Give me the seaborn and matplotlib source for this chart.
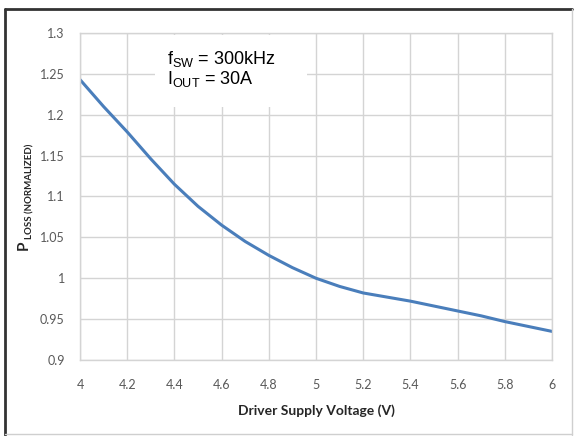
import matplotlib
matplotlib.use('Agg')
import matplotlib.pyplot as plt
from matplotlib.lines import Line2D
from matplotlib.patches import Rectangle
import numpy as np
import pandas as pd
import seaborn as sns

# values
voltage = [4.0, 4.1, 4.2, 4.3, 4.4, 4.5, 4.6, 4.7, 4.8, 4.9, 5.0,
           5.1, 5.2, 5.3, 5.4, 5.5, 5.6, 5.7, 5.8, 5.9, 6.0]
ploss = [1.243, 1.210, 1.179, 1.146, 1.115, 1.088, 1.065, 1.045, 1.028, 1.013, 1.000,
         0.990, 0.982, 0.977, 0.972, 0.966, 0.960, 0.954, 0.947, 0.941, 0.935]
x_ticks = [4, 4.2, 4.4, 4.6, 4.8, 5, 5.2, 5.4, 5.6, 5.8, 6]
x_tick_labels = ['4', '4.2', '4.4', '4.6', '4.8', '5', '5.2', '5.4', '5.6', '5.8', '6']
y_ticks = [0.9, 0.95, 1.0, 1.05, 1.1, 1.15, 1.2, 1.25, 1.3]
y_tick_labels = ['0.9', '0.95', '1', '1.05', '1.1', '1.15', '1.2', '1.25', '1.3']


def main():
    sns.set_theme(style='whitegrid')
    plt.rcParams['font.family'] = ['Lato', 'DejaVu Sans']
    plt.rcParams['mathtext.fontset'] = 'custom'
    plt.rcParams['mathtext.rm'] = 'Liberation Sans'

    df = pd.DataFrame({'voltage': voltage, 'ploss': ploss})

    fig = plt.figure(figsize=(5.75, 4.36), dpi=100)
    ax = fig.add_axes([80 / 575, 1 - 360 / 436, 472 / 575, 327 / 436])

    sns.lineplot(data=df, x='voltage', y='ploss', ax=ax,
                 color='#4a7ebb', linewidth=2.2)

    ax.set_xlim(4, 6)
    ax.set_ylim(0.9, 1.3)
    ax.set_xticks(x_ticks)
    ax.set_xticklabels(x_tick_labels)
    ax.set_yticks(y_ticks)
    ax.set_yticklabels(y_tick_labels)
    ax.tick_params(axis='both', labelsize=9, labelcolor='#595959', length=0)
    ax.tick_params(axis='x', pad=14)
    ax.tick_params(axis='y', pad=11)
    ax.grid(True, color='#d4d4d4', linewidth=1.0)
    for s in ax.spines.values():
        s.set_color('#d4d4d4')
        s.set_linewidth(1.0)

    ax.set_xlabel('Driver Supply Voltage (V)', fontsize=10, fontweight='bold',
                  color='#262626', labelpad=9)
    ax.set_ylabel('')

    # y label: big P with small subscript, drawn as two rotated pieces
    fig.text(24 / 575, 1 - 250 / 436, 'P', rotation=90, fontsize=11,
             fontweight='bold', color='#262626', ha='center', va='bottom')
    fig.text(30 / 575, 1 - 239 / 436, 'LOSS (NORMALIZED)', rotation=90,
             fontsize=7, fontweight='bold', color='#262626',
             ha='center', va='bottom')

    # white box behind the operating conditions, hides the grid
    ax.add_patch(Rectangle((4.318, 1.2095), 0.644, 0.088, facecolor='white',
                           edgecolor='none', zorder=1))
    ax.text(4.369, 1.281, 'f$_{\\mathrm{SW}}$ = 300kHz\nI$_{\\mathrm{OUT}}$ = 30A',
            fontsize=13, family='Liberation Sans', color='black',
            va='top', ha='left', linespacing=1.0, zorder=3)

    # chart frame
    fig.add_artist(Line2D([5 / 575, 572 / 575], [1 - 9 / 436, 1 - 9 / 436],
                          color='#333333', linewidth=2))
    fig.add_artist(Line2D([5 / 575, 5 / 575], [1 - 9 / 436, 1 - 435 / 436],
                          color='#333333', linewidth=2))
    fig.add_artist(Line2D([5 / 575, 572 / 575], [1 - 434 / 436, 1 - 434 / 436],
                          color='#cfcfcf', linewidth=1))
    fig.add_artist(Line2D([572 / 575, 572 / 575], [1 - 9 / 436, 1 - 435 / 436],
                          color='#cfcfcf', linewidth=1))

    fig.savefig('out.png', dpi=100)


if __name__ == "__main__":
    main()
